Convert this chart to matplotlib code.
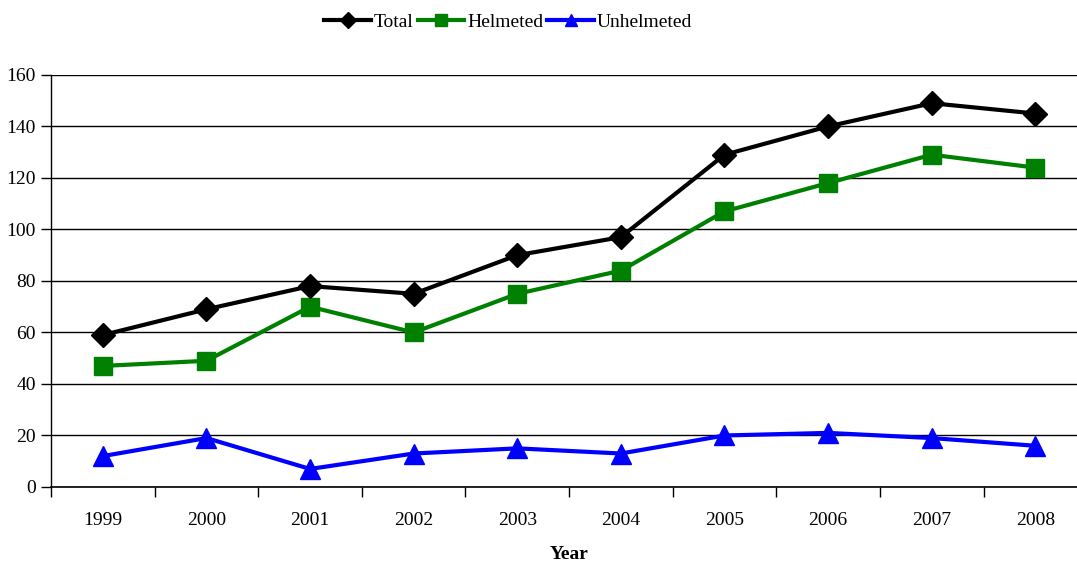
import numpy as np
import matplotlib
matplotlib.use('Agg')
import matplotlib.pyplot as plt

plt.rcParams['font.family'] = ['Liberation Serif', 'DejaVu Serif']

years = ['1999', '2000', '2001', '2002', '2003', '2004', '2005', '2006', '2007', '2008']
total = [59, 69, 78, 75, 90, 97, 129, 140, 149, 145]
helmeted = [47, 49, 70, 60, 75, 84, 107, 118, 129, 124]
unhelmeted = [12, 19, 7, 13, 15, 13, 20, 21, 19, 16]

fig = plt.figure(figsize=(10.77, 5.63), dpi=100)
ax = fig.add_axes([0.0474, 0.135, 0.962, 0.732])

x = np.arange(len(years))
ax.plot(x, total, color='black', lw=3, marker='D', ms=12, label='Total', zorder=4)
ax.plot(x, helmeted, color='#008000', lw=3, marker='s', ms=13, label='Helmeted', zorder=3)
ax.plot(x, unhelmeted, color='#0000ff', lw=3, marker='^', ms=14, label='Unhelmeted', zorder=3)

ax.set_xlim(-0.5, len(years) - 0.5)
ax.set_ylim(0, 160)
ax.set_yticks(range(0, 161, 20))
ax.yaxis.grid(True, color='black', lw=1)
ax.set_axisbelow(True)

# ticks between categories, labels at centers
ax.set_xticks(np.arange(-0.5, len(years) - 0.5, 1))
ax.set_xticklabels([])
ax.set_xticks(x, minor=True)
ax.set_xticklabels(years, minor=True)
ax.tick_params(axis='x', which='minor', length=0, pad=18, labelsize=14)
ax.tick_params(axis='x', which='major', length=7, width=1, direction='out')
ax.tick_params(axis='y', length=7, width=1, direction='out', labelsize=14, pad=4)

for s in ['top', 'right']:
    ax.spines[s].set_visible(False)
ax.spines['left'].set_linewidth(1)
ax.spines['bottom'].set_linewidth(1.2)

ax.set_xlabel('Year', fontsize=14, fontweight='bold', labelpad=12)

fig.legend(loc='upper center', bbox_to_anchor=(0.472, 1.008), ncol=3, frameon=False,
           fontsize=14, handlelength=2.4, columnspacing=0.2, handletextpad=0.15,
           markerscale=0.65)

fig.savefig('out.png', dpi=100)
